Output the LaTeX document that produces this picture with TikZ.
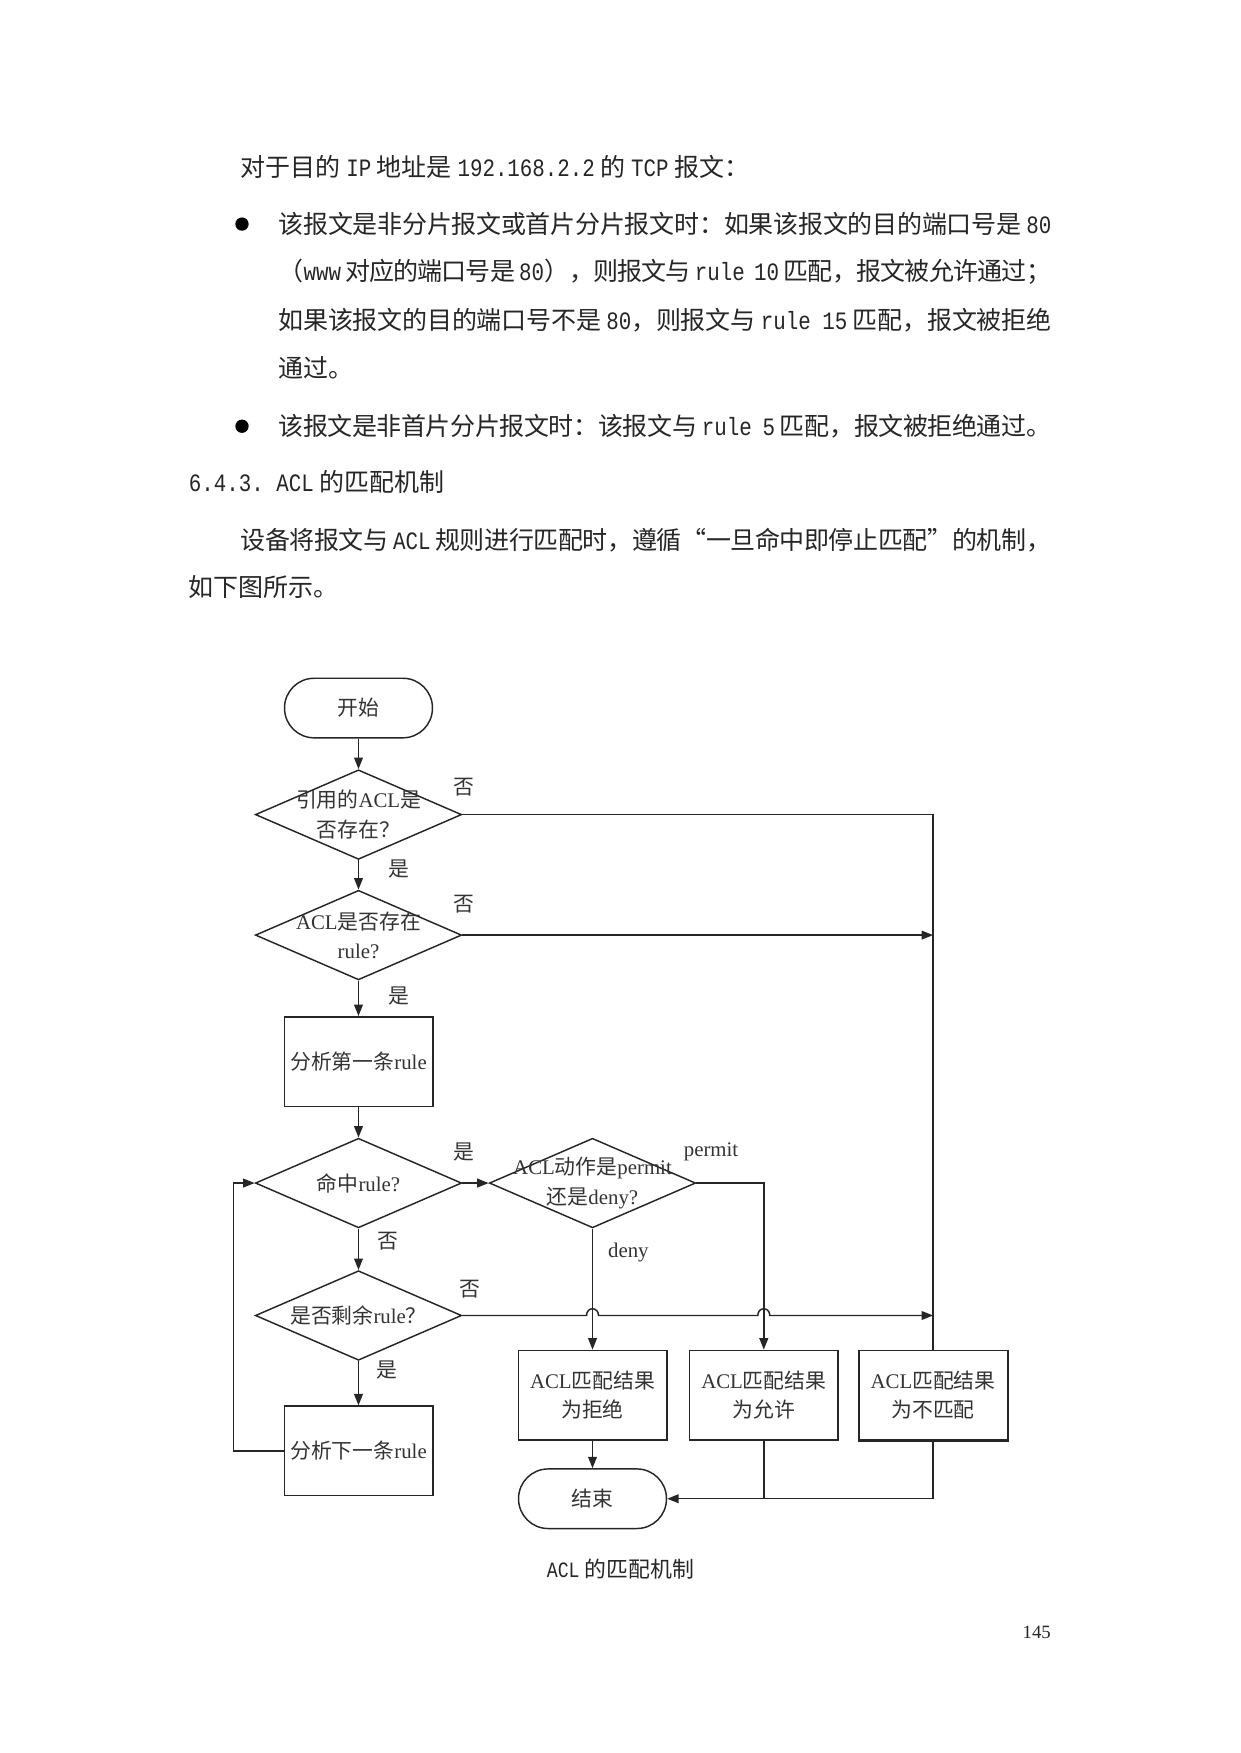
\documentclass[tikz,border=0pt]{standalone}
\usepackage{fontspec}
\setmainfont{Liberation Serif}
\newfontfamily\cjk{Noto Sans CJK SC}
\newfontfamily\lat[FakeStretch=0.833]{Liberation Mono}
\newfontfamily\tms{Liberation Serif}
\usetikzlibrary{shapes.geometric,arrows.meta,calc}
\XeTeXlinebreaklocale "zh"
\XeTeXlinebreakskip=0pt plus 3pt minus 0.5pt
\hbadness=10000

\newcommand{\en}[1]{{\lat #1}}
\newcommand{\tm}[1]{{\tms #1}}
\newcommand{\jline}[2]{\parbox[b]{#1}{\parfillskip=0pt\relax #2}}

\tikzset{
  body/.style={anchor=base west, inner sep=0pt, font=\fontsize{12pt}{14pt}\cjk, text=black!85},
  chart/.style={inner sep=0pt, font=\fontsize{10pt}{14pt}\cjk, text=black!80, align=center},
  terminal/.style={draw, rounded corners=14.2pt, minimum width=71pt, minimum height=28.6pt, inner sep=0pt},
  process/.style={draw, minimum width=71.3pt, minimum height=43pt, inner sep=0pt},
  decision/.style={draw, diamond, minimum width=99pt, minimum height=43pt, inner sep=0pt},
  flow/.style={-{Triangle[length=5.5pt,width=4.2pt]}},
  bullet/.style={circle, fill=black, inner sep=0pt, minimum size=6.4pt}
}

\begin{document}
\begin{tikzpicture}[x=0.478pt, y=-0.478pt, line width=0.7pt, draw=black!85]
\useasboundingbox[fill=white] (0pt,0pt) rectangle (595.2pt,-841.44pt);

% Text above the chart
\node[body] (intro) at (241,177) {对于目的 \en{IP} 地址是 \en{192.168.2.2} 的 \en{TCP} 报文：};
\node[bullet] (dota) at (243,225) {};
\node[body] (la) at (279,234) {\jline{371pt}{该报文是非分片报文或首片分片报文时：如果该报文的目的端口号是 \en{80}}};
\node[body] (lb) at (279,282) {\jline{371pt}{（\en{www} 对应的端口号是 \en{80}），则报文与 \en{rule 10} 匹配，报文被允许通过；}};
\node[body] (lc) at (279,331) {\jline{371pt}{如果该报文的目的端口号不是 \en{80}，则报文与 \en{rule 15} 匹配，报文被拒绝}};
\node[body] (ld) at (279,379) {通过。};
\node[bullet] (dotb) at (243,428) {};
\node[body] (le) at (279,437) {\jline{371pt}{该报文是非首片分片报文时：该报文与 \en{rule 5} 匹配，报文被拒绝通过。}};
\node[body] (head) at (189,494) {\en{6.4.3.}\hspace{6pt}\en{ACL} 的匹配机制};
\node[body] (pa) at (241,552) {\jline{389pt}{设备将报文与 \en{ACL} 规则进行匹配时，遵循“一旦命中即停止匹配”的机制，}};
\node[body] (pb) at (189,599) {如下图所示。};

% Shapes of the chart
\node[terminal] (start) at (360,711) {};
\node[decision] (d1) at (360,818) {};
\node[decision] (d2) at (360,939) {};
\node[process] (first) at (360,1066) {};
\node[decision] (d3) at (360,1188) {};
\node[decision] (d4) at (360,1321) {};
\node[process] (next) at (360,1457) {};
\node[decision] (d5) at (595,1188) {};
\node[process] (deny) at (595,1401) {};
\node[process] (permit) at (767,1401) {};
\node[process] (nomatch) at (937,1401) {};
\node[terminal] (end) at (595,1505) {};
\draw[line width=1.3pt] (nomatch.north east) -- (nomatch.south east) -- (nomatch.south west);

% Texts in the shapes
\node[chart] (startt) at (start) {开始};
\node[chart] (d1t) at (d1) {引用的\tm{ACL}是\\否存在？};
\node[chart] (d2t) at (d2) {\tm{ACL}是否存在\\\tm{rule?}};
\node[chart] (firstt) at (first) {分析第一条\tm{rule}};
\node[chart] (d3t) at (d3) {命中\tm{rule?}};
\node[chart] (d4t) at (d4) {是否剩余\tm{rule}？};
\node[chart] (nextt) at (next) {分析下一条\tm{rule}};
\node[chart] (d5t) at (d5) {\tm{ACL}动作是\tm{permit}\\还是\tm{deny?}};
\node[chart] (denyt) at (deny) {\tm{ACL}匹配结果\\为拒绝};
\node[chart] (permitt) at (permit) {\tm{ACL}匹配结果\\为允许};
\node[chart] (nomatcht) at (nomatch) {\tm{ACL}匹配结果\\为不匹配};
\node[chart] (endt) at (end) {结束};

% Main column
\draw[flow] (start) -- (d1);
\draw[flow] (d1) -- (d2);
\draw[flow] (d2) -- (first);
\draw[flow] (first) -- (d3);
\draw[flow] (d3) -- (d4);
\draw[flow] (d4) -- (next);
\draw[flow] (next.west) -- ++(-50,0) |- (d3.west);

% Right side
\draw (d1.east) -- (d1.east -| nomatch.north) -- (nomatch.north);
\draw[flow] (d2.east) -- (d2.east -| nomatch.north);
\draw[flow] (d3.east) -- (d5.west);
\draw[flow] (d5.east) -| (permit.north);
\draw[flow] (d5.south) -- (deny.north);
\coordinate (hopa) at (d5.south |- d4.east);
\coordinate (hopb) at (permit.north |- d4.east);
\draw[flow] (d4.east) -- ($(hopa)+(-6,0)$) .. controls ($(hopa)+(-6,-9)$) and ($(hopa)+(6,-9)$) .. ($(hopa)+(6,0)$)
  -- ($(hopb)+(-6,0)$) .. controls ($(hopb)+(-6,-9)$) and ($(hopb)+(6,-9)$) .. ($(hopb)+(6,0)$)
  -- (d4.east -| nomatch.north);
\draw[flow] (deny) -- (end);
\draw (permit.south) -- (permit.south |- end.east);
\draw[flow] (nomatch.south) |- (end.east);

% Branch labels
\node[chart] (no1) at (466,790) {否};
\node[chart] (yes1) at (401,873) {是};
\node[chart] (no2) at (466,908) {否};
\node[chart] (yes2) at (401,1000) {是};
\node[chart] (yes3) at (466,1157) {是};
\node[chart] (no3) at (390,1246) {否};
\node[chart] (no4) at (472,1295) {否};
\node[chart] (yes4) at (389,1376) {是};
\node[chart, font=\fontsize{10pt}{12pt}\tms] (permitl) at (714,1157) {permit};
\node[chart, font=\fontsize{10pt}{12pt}\tms] (denyl) at (631,1258) {deny};

% Caption and page number
\node[body, anchor=base, font=\fontsize{10.5pt}{12pt}\cjk] (cap) at (623,1584) {\en{ACL} 的匹配机制};
\node[body, anchor=base east, font=\fontsize{9pt}{11pt}\tms] (page) at (1056,1645) {145};
\end{tikzpicture}
\end{document}
